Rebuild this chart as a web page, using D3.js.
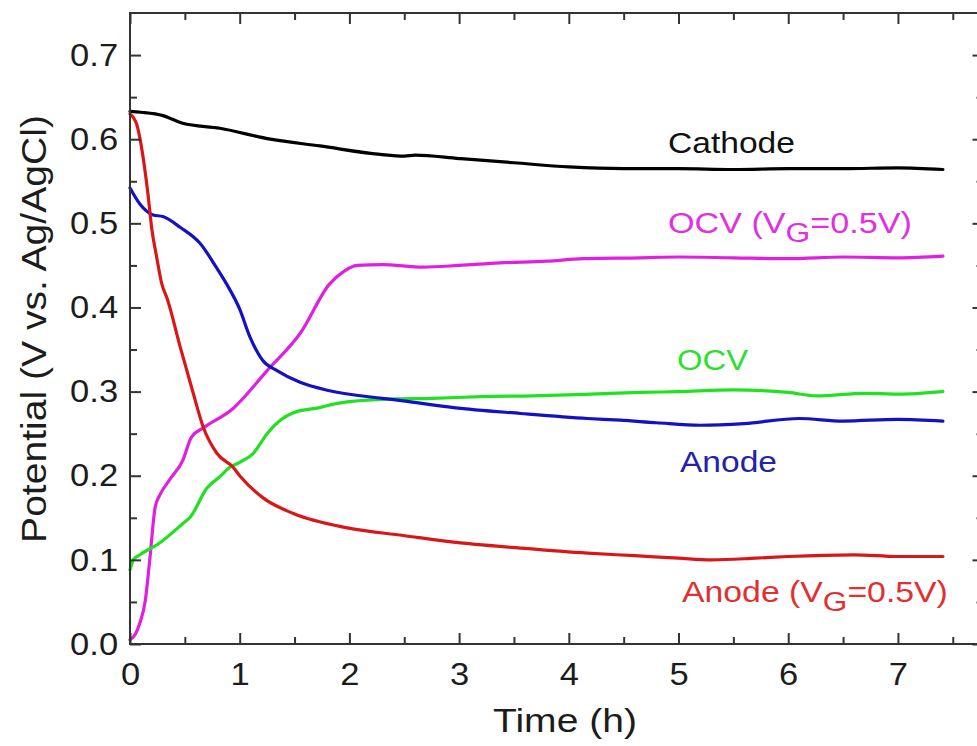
<!DOCTYPE html>
<html><head><meta charset="utf-8">
<script src="https://cdn.jsdelivr.net/npm/d3@7"></script>
<style>body{margin:0;background:#fff}svg{display:block}text{font-family:"Liberation Sans",Arial,Helvetica,sans-serif}</style>
</head><body>
<svg id="c" width="977" height="746"></svg>
<script>
// ---- data ----
const xTicks = [0, 1, 2, 3, 4, 5, 6, 7];
const xTickLabels = ["0", "1", "2", "3", "4", "5", "6", "7"];
const xMinor = [0.5, 1.5, 2.5, 3.5, 4.5, 5.5, 6.5, 7.5];
const yTicks = [0, 0.1, 0.2, 0.3, 0.4, 0.5, 0.6, 0.7];
const yTickLabels = ["0.0", "0.1", "0.2", "0.3", "0.4", "0.5", "0.6", "0.7"];
const yMinor = [0.05, 0.15, 0.25, 0.35, 0.45, 0.55, 0.65];

const cathodeT = [0, 0.1, 0.3, 0.38, 0.48, 0.82, 1.28, 1.73, 2.28, 2.5, 2.6, 3.0, 3.5, 4.0, 4.5, 5.0, 5.5, 6.0, 6.5, 7.0, 7.41];
const cathodeV = [0.633, 0.632, 0.628, 0.624, 0.619, 0.613, 0.600, 0.592, 0.582, 0.580, 0.581, 0.577, 0.572, 0.567, 0.565, 0.565, 0.564, 0.565, 0.565, 0.566, 0.564];

const ocvGT = [0, 0.05, 0.09, 0.14, 0.18, 0.23, 0.28, 0.36, 0.48, 0.56, 0.67, 0.94, 1.25, 1.55, 1.82, 1.95, 2.07, 2.3, 2.67, 3.0, 3.37, 3.8, 4.13, 4.65, 5.0, 5.5, 6.0, 6.5, 7.0, 7.41];
const ocvGV = [0.005, 0.012, 0.025, 0.052, 0.100, 0.163, 0.179, 0.195, 0.218, 0.246, 0.257, 0.280, 0.325, 0.369, 0.428, 0.443, 0.450, 0.451, 0.448, 0.450, 0.453, 0.455, 0.458, 0.459, 0.460, 0.459, 0.458, 0.460, 0.459, 0.461];

const ocvT = [0, 0.03, 0.09, 0.27, 0.48, 0.55, 0.7, 0.82, 0.91, 1.0, 1.12, 1.25, 1.37, 1.49, 1.73, 1.89, 2.34, 2.76, 3.2, 3.67, 4.2, 4.65, 5.0, 5.5, 6.0, 6.26, 6.7, 7.0, 7.41];
const ocvV = [0.088, 0.100, 0.106, 0.120, 0.143, 0.151, 0.185, 0.199, 0.210, 0.216, 0.226, 0.250, 0.266, 0.275, 0.281, 0.286, 0.291, 0.292, 0.294, 0.295, 0.297, 0.299, 0.300, 0.302, 0.299, 0.295, 0.298, 0.297, 0.300];

const anodeT = [0, 0.09, 0.21, 0.3, 0.46, 0.64, 0.79, 0.88, 1.0, 1.09, 1.21, 1.34, 1.55, 1.82, 2.3, 2.49, 2.95, 3.56, 4.17, 4.47, 4.8, 5.2, 5.6, 6.1, 6.5, 7.0, 7.41];
const anodeV = [0.542, 0.523, 0.510, 0.508, 0.495, 0.476, 0.447, 0.428, 0.398, 0.366, 0.337, 0.325, 0.311, 0.301, 0.292, 0.289, 0.281, 0.274, 0.268, 0.266, 0.263, 0.260, 0.262, 0.268, 0.265, 0.267, 0.265];

const anodeGT = [0, 0.06, 0.12, 0.16, 0.2, 0.24, 0.29, 0.34, 0.46, 0.57, 0.67, 0.79, 0.94, 1.0, 1.21, 1.49, 1.98, 2.49, 2.95, 3.56, 4.17, 4.6, 5.0, 5.3, 5.7, 6.0, 6.6, 7.0, 7.41];
const anodeGV = [0.630, 0.618, 0.578, 0.539, 0.492, 0.462, 0.428, 0.410, 0.352, 0.301, 0.257, 0.227, 0.210, 0.200, 0.174, 0.155, 0.138, 0.129, 0.121, 0.114, 0.108, 0.105, 0.102, 0.100, 0.102, 0.104, 0.106, 0.104, 0.104];

const seriesNames = ["Cathode", "OCV (VG=0.5V)", "OCV", "Anode", "Anode (VG=0.5V)"];
const xTitle = "Time (h)";
const yTitle = "Potential (V vs. Ag/AgCl)";

// ---- chart ----
const svg = d3.select("#c");
svg.append("rect").attr("width", 977).attr("height", 746).attr("fill", "#fff");
const x = d3.scaleLinear().domain([0, 7.78]).range([130, 983.5]);
const y = d3.scaleLinear().domain([0, 0.75]).range([644, 13]);

const line = d3.line().x(d => x(d[0])).y(d => y(d[1])).curve(d3.curveMonotoneX);
const zip = (t, v) => t.map((d, i) => [d, v[i]]);
const series = [
  {t: cathodeT, v: cathodeV, c: "#000000"},
  {t: ocvGT, v: ocvGV, c: "#e020e0"},
  {t: ocvT, v: ocvV, c: "#22e022"},
  {t: anodeT, v: anodeV, c: "#1212c4"},
  {t: anodeGT, v: anodeGV, c: "#d81818"}
];
svg.append("g").selectAll("path").data(series).join("path")
  .attr("d", s => line(zip(s.t, s.v)))
  .attr("fill", "none").attr("stroke", s => s.c).attr("stroke-width", 3.2)
  .attr("stroke-linejoin", "round").attr("stroke-linecap", "round");

const axColor = "#333";
function styleAxis(g) {
  g.select(".domain").remove();
  g.selectAll(".tick line").attr("stroke", axColor).attr("stroke-width", 2);
  g.selectAll(".tick text").attr("fill", "#1c1c1c").attr("font-size", 32)
    .attr("font-family", '"Liberation Sans",Arial,sans-serif');
}
const x0 = x.range()[0], x1 = x.range()[1], yb = y.range()[0], yt = y.range()[1];
// bottom
svg.append("g").attr("transform", `translate(0,${yb})`)
  .call(d3.axisBottom(x).tickValues(xTicks).tickFormat((d, i) => xTickLabels[i]).tickSizeInner(-11).tickSizeOuter(0).tickPadding(18))
  .call(styleAxis).call(g => g.selectAll(".tick text").attr("transform", "scale(1.08,1)"));
svg.append("g").attr("transform", `translate(0,${yb})`)
  .call(d3.axisBottom(x).tickValues(xMinor).tickFormat("").tickSizeInner(-7).tickSizeOuter(0)).call(styleAxis);
// top
svg.append("g").attr("transform", `translate(0,${yt})`)
  .call(d3.axisTop(x).tickValues(xTicks).tickFormat("").tickSizeInner(-11).tickSizeOuter(0)).call(styleAxis);
svg.append("g").attr("transform", `translate(0,${yt})`)
  .call(d3.axisTop(x).tickValues(xMinor).tickFormat("").tickSizeInner(-7).tickSizeOuter(0)).call(styleAxis);
// left
svg.append("g").attr("transform", `translate(${x0},0)`)
  .call(d3.axisLeft(y).tickValues(yTicks).tickFormat((d, i) => yTickLabels[i]).tickSizeInner(-11).tickSizeOuter(0).tickPadding(11))
  .call(styleAxis).call(g => g.selectAll(".tick text").attr("transform", "scale(1.08,1)"));
svg.append("g").attr("transform", `translate(${x0},0)`)
  .call(d3.axisLeft(y).tickValues(yMinor).tickFormat("").tickSizeInner(-7).tickSizeOuter(0)).call(styleAxis);
// right
svg.append("g").attr("transform", `translate(${x1},0)`)
  .call(d3.axisRight(y).tickValues(yTicks).tickFormat("").tickSizeInner(-11).tickSizeOuter(0)).call(styleAxis);
svg.append("g").attr("transform", `translate(${x1},0)`)
  .call(d3.axisRight(y).tickValues(yMinor).tickFormat("").tickSizeInner(-7).tickSizeOuter(0)).call(styleAxis);
// frame
svg.append("rect").attr("x", x0).attr("y", yt).attr("width", x1 - x0).attr("height", yb - yt)
  .attr("fill", "none").attr("stroke", axColor).attr("stroke-width", 2);

// axis titles
function fitText(t, tx, ty, targetW, rot) {
  const w = t.node().getComputedTextLength();
  t.attr("transform", `translate(${tx},${ty})${rot ? " rotate(" + rot + ")" : ""} scale(${targetW / w},1)`);
}
const xt = svg.append("text").attr("text-anchor", "middle").attr("font-size", 34).attr("fill", "#1c1c1c").text(xTitle);
fitText(xt, 565, 732, 144);
const yti = svg.append("text").attr("text-anchor", "middle").attr("font-size", 36).attr("fill", "#1c1c1c").text(yTitle);
fitText(yti, 46, 329, 428, -90);

// series labels
function seriesLabel(name, left, base, targetW, color) {
  const t = svg.append("text").attr("font-size", 30).attr("fill", color);
  const m = name.match(/^(.*V)G(=.*)$/);
  if (m) {
    t.append("tspan").text(m[1]);
    t.append("tspan").attr("font-size", 28).attr("dy", 9).text("G");
    t.append("tspan").attr("dy", -9).text(m[2]);
  } else t.text(name);
  const w = t.node().getComputedTextLength();
  t.attr("transform", `translate(${left},${base}) scale(${targetW / w},1)`);
}
seriesLabel(seriesNames[0], 668, 153, 127, "#111");
seriesLabel(seriesNames[1], 668, 233, 244, "#e030e0");
seriesLabel(seriesNames[2], 677, 370, 71, "#2ee02e");
seriesLabel(seriesNames[3], 680, 472, 97, "#2323a8");
seriesLabel(seriesNames[4], 682, 602, 266, "#e03030");
</script>
</body></html>
